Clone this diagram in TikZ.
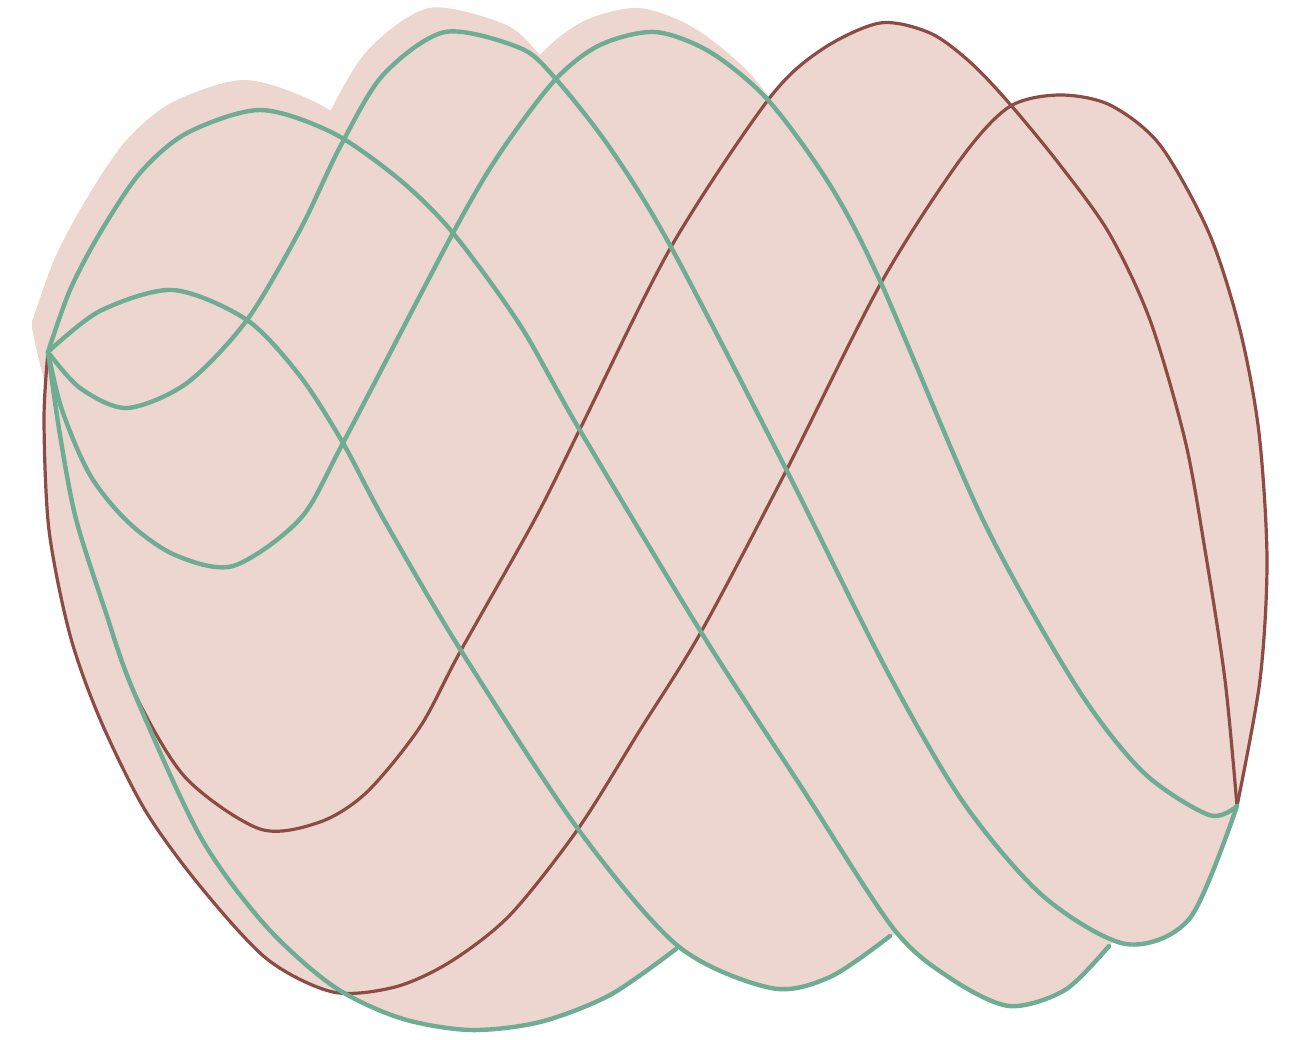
\documentclass[tikz,border=0pt]{standalone}
\definecolor{pinkfill}{HTML}{EDD6D0}
\definecolor{grn}{HTML}{6EAD91}
\definecolor{brn}{HTML}{8C4B45}
\begin{document}
\begin{tikzpicture}[x=1pt,y=-1pt,
  greenline/.style={draw=grn,line width=4.4pt,line cap=round,line join=round},
  brownline/.style={draw=brn,line width=3.2pt,line cap=round,line join=round},
  lobe/.style={fill=pinkfill}]
\useasboundingbox (0,0) rectangle (1296,1039);
\coordinate (L) at (48,352);
\coordinate (R) at (1237,806);
\def\curveA{plot[smooth] coordinates {(48,352) (70,290) (100,233) (140,173) (187,133) (260,110) (333,133) (400,180) (453,233) (520,325) (578,427) (701,632) (800,785) (893,928) (950,978) (1009,1006) (1065,990) (1109,946)}}
\def\curveB{plot[smooth] coordinates {(48,352) (100,311) (173,290) (247,320) (300,376) (343,443) (383,518) (460,649) (578,829) (678,946) (771,988) (830,977) (890,936)}}
\def\curveC{plot[smooth] coordinates {(48,352) (80,388) (127,408) (187,383) (247,320) (300,230) (340,147) (383,75) (445,32) (520,48) (555,78) (610,148) (671,247) (788,473) (886,669) (963,802) (1043,896) (1126,944) (1190,918) (1237,806)}}
\def\curveD{plot[smooth] coordinates {(48,352) (62,410) (90,475) (128,522) (175,555) (233,566) (300,519) (343,443) (453,233) (500,153) (555,80) (600,45) (655,32) (710,52) (768,100) (830,185) (881,283) (983,520) (1076,686) (1143,772) (1209,815) (1237,806)}}
\def\curveE{plot[smooth] coordinates {(48,352) (60,435) (76,519) (105,610) (133,690) (200,836) (265,925) (333,986) (400,1018) (470,1030) (540,1022) (610,995) (676,949)}}
\def\curveBO{plot[smooth] coordinates {(48,352) (44,420) (49,530) (70,635) (100,719) (145,810) (200,886) (267,959) (333,992) (395,987) (450,962) (510,915) (578,829) (640,730) (701,632) (785,473) (881,283) (960,160) (1009,107) (1059,95) (1110,105) (1160,145) (1209,233) (1240,330) (1259,433) (1267,560) (1260,680) (1237,806)}}
\def\curveBI{plot[smooth] coordinates {(48,352) (60,435) (76,519) (105,610) (133,690) (185,777) (260,829) (320,822) (367,792) (420,727) (460,652) (535,519) (581,427) (671,247) (768,100) (821,50) (880,23) (930,33) (970,62) (1009,103) (1060,165) (1109,233) (1150,320) (1185,440) (1205,550) (1225,680) (1237,806)}}
% halo (offset print of the green lobes)
\begin{scope}[shift={(-16,-30)}]
  \fill[lobe] \curveA -- (1237,806) -- cycle;
\end{scope}
\begin{scope}[shift={(-16,-24)}]
  \fill[lobe] \curveC -- cycle;
  \fill[lobe] \curveD -- cycle;
\end{scope}
\fill[lobe] (32,320) -- (56,326) -- (56,345) -- (32,330) -- cycle;
% main fill
\fill[lobe] \curveA -- (R) -- cycle;
\fill[lobe] \curveB -- (R) -- cycle;
\fill[lobe] \curveC -- cycle;
\fill[lobe] \curveD -- cycle;
\fill[lobe] \curveE -- (R) -- cycle;
\fill[lobe] \curveBO -- cycle;
\fill[lobe] \curveBI -- cycle;
% lines
\path[brownline] \curveBO;
\path[brownline] \curveBI;
\path[greenline] \curveA;
\path[greenline] \curveB;
\path[greenline] \curveC;
\path[greenline] \curveD;
\path[greenline] \curveE;
\end{tikzpicture}
\end{document}
